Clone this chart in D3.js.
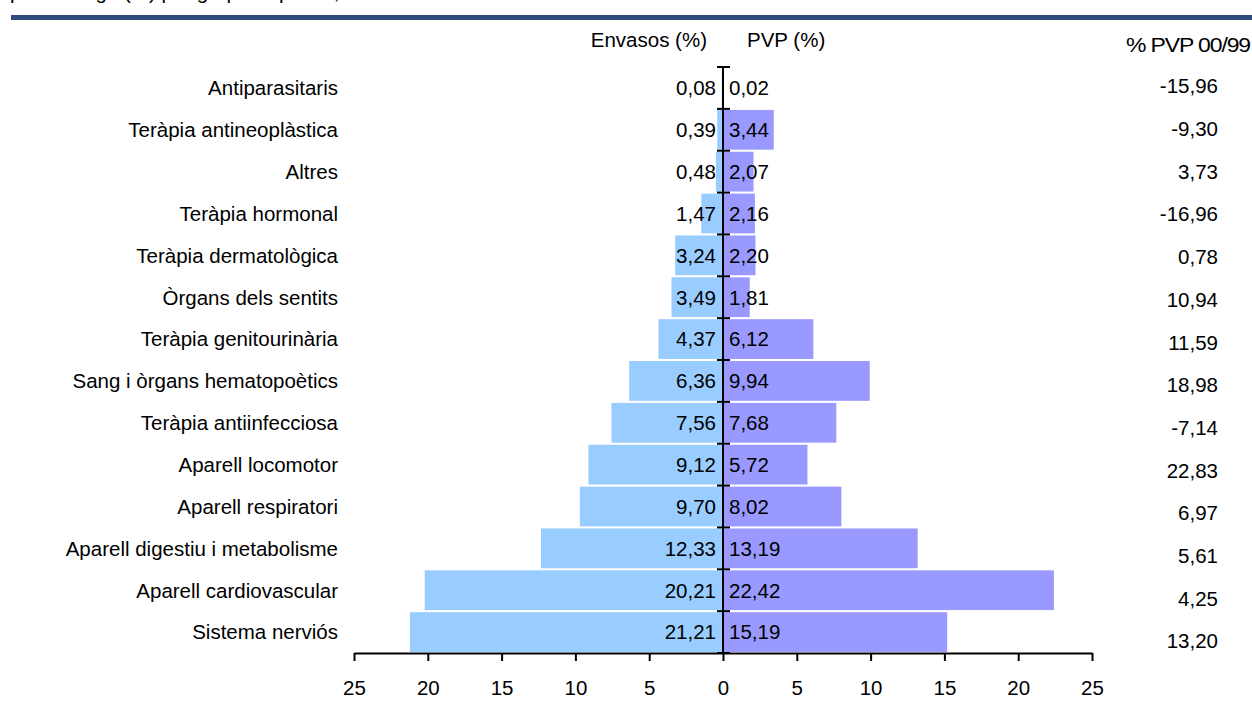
<!DOCTYPE html>
<html>
<head>
<meta charset="utf-8">
<script src="https://cdn.jsdelivr.net/npm/d3@7"></script>
<style>
  html, body { margin: 0; padding: 0; background: #fff; }
  svg { display: block; }
  text { font-family: "Liberation Sans", Arial, sans-serif; fill: #000; }
</style>
</head>
<body>
<svg id="chart" width="1252" height="702"></svg>
<script>
const categories = [
  "Antiparasitaris", "Teràpia antineoplàstica", "Altres", "Teràpia hormonal",
  "Teràpia dermatològica", "Òrgans dels sentits", "Teràpia genitourinària",
  "Sang i òrgans hematopoètics", "Teràpia antiinfecciosa", "Aparell locomotor",
  "Aparell respiratori", "Aparell digestiu i metabolisme", "Aparell cardiovascular",
  "Sistema nerviós"
];
const envasos = [0.08, 0.39, 0.48, 1.47, 3.24, 3.49, 4.37, 6.36, 7.56, 9.12, 9.70, 12.33, 20.21, 21.21];
const pvp = [0.02, 3.44, 2.07, 2.16, 2.20, 1.81, 6.12, 9.94, 7.68, 5.72, 8.02, 13.19, 22.42, 15.19];
const pvpChange = [-15.96, -9.30, 3.73, -16.96, 0.78, 10.94, 11.59, 18.98, -7.14, 22.83, 6.97, 5.61, 4.25, 13.20];
const tickValues = [-25, -20, -15, -10, -5, 0, 5, 10, 15, 20, 25];
const headerEnvasos = "Envasos (%)";
const headerPvp = "PVP (%)";
const headerChange = "% PVP 00/99";
const titleText = "percentatge (%) per grup terapèutic, 2000";

const FS = 20.5;
const svg = d3.select("#chart");
const fmt = v => d3.format(".2f")(v).replace(".", ",").replace("\u2212", "-");

const x0 = 723;
const xAxisScale = d3.scaleLinear().domain([-25, 25]).range([354, 1092]);
const xLeft = d3.scaleLinear().domain([0, 25]).range([x0, 354]);
const xRight = d3.scaleLinear().domain([0, 25]).range([x0, 1092]);
const y = d3.scaleBand().domain(categories).range([67, 653]).paddingInner(0.05).paddingOuter(0.025);
const yEdges = d3.scaleLinear().domain([0, categories.length]).range([67, 653]);
const yChange = d3.scalePoint().domain(categories).range([86, 641]);

// title (cut off at top, as in the reference) and rule
svg.append("text").attr("x", 10).attr("y", -1.5).attr("font-size", FS).text(titleText);
svg.append("rect").attr("x", 11).attr("y", 15).attr("width", 1241).attr("height", 5).attr("fill", "#2E4D7D");

// headers
svg.append("text").attr("x", 707).attr("y", 47).attr("text-anchor", "end").attr("font-size", FS).text(headerEnvasos);
svg.append("text").attr("x", 747).attr("y", 47).attr("font-size", FS).text(headerPvp);
svg.append("text").attr("x", 1250).attr("y", 52).attr("text-anchor", "end").attr("font-size", FS)
  .attr("textLength", 124).attr("lengthAdjust", "spacingAndGlyphs").attr("letter-spacing", -1).text(headerChange);

// bars
svg.append("g").selectAll("rect").data(categories).join("rect")
  .attr("x", (d, i) => xLeft(envasos[i]))
  .attr("y", d => y(d))
  .attr("width", (d, i) => x0 - xLeft(envasos[i]))
  .attr("height", y.bandwidth())
  .attr("fill", "#99CCFF");
svg.append("g").selectAll("rect").data(categories).join("rect")
  .attr("x", x0)
  .attr("y", d => y(d))
  .attr("width", (d, i) => xRight(pvp[i]) - x0)
  .attr("height", y.bandwidth())
  .attr("fill", "#9999FF");

// category labels
svg.append("g").selectAll("text").data(categories).join("text")
  .attr("x", 338).attr("y", d => y(d) + y.bandwidth() / 2).attr("dy", "0.36em")
  .attr("text-anchor", "end").attr("font-size", FS).text(d => d);

// value labels
svg.append("g").selectAll("text").data(categories).join("text")
  .attr("x", 716).attr("y", d => y(d) + y.bandwidth() / 2).attr("dy", "0.36em")
  .attr("text-anchor", "end").attr("font-size", FS).text((d, i) => fmt(envasos[i]));
svg.append("g").selectAll("text").data(categories).join("text")
  .attr("x", 729).attr("y", d => y(d) + y.bandwidth() / 2).attr("dy", "0.36em")
  .attr("font-size", FS).text((d, i) => fmt(pvp[i]));

// change column
svg.append("g").selectAll("text").data(categories).join("text")
  .attr("x", 1218).attr("y", d => yChange(d)).attr("dy", "0.36em")
  .attr("text-anchor", "end").attr("font-size", FS).text((d, i) => fmt(pvpChange[i]));

// x axis
const xAxis = d3.axisBottom(xAxisScale).tickValues(tickValues).tickSize(8).tickSizeOuter(0).tickPadding(19)
  .tickFormat(d => Math.abs(d));
const gx = svg.append("g").attr("transform", "translate(0,653)").call(xAxis);
gx.select(".domain").attr("stroke", "#000").attr("stroke-width", 2);
gx.selectAll(".tick line").attr("stroke", "#000").attr("stroke-width", 2);
gx.selectAll(".tick text").attr("font-size", FS).attr("font-family", "Liberation Sans, Arial, sans-serif").attr("fill", "#000");

// vertical zero axis with crossing ticks
svg.append("line").attr("x1", x0).attr("x2", x0).attr("y1", yEdges(0)).attr("y2", yEdges(categories.length))
  .attr("stroke", "#000").attr("stroke-width", 2);
svg.append("g").selectAll("line").data(d3.range(categories.length + 1)).join("line")
  .attr("x1", x0 - 6).attr("x2", x0 + 7)
  .attr("y1", d => yEdges(d)).attr("y2", d => yEdges(d))
  .attr("stroke", "#000").attr("stroke-width", 2);
</script>
</body>
</html>
